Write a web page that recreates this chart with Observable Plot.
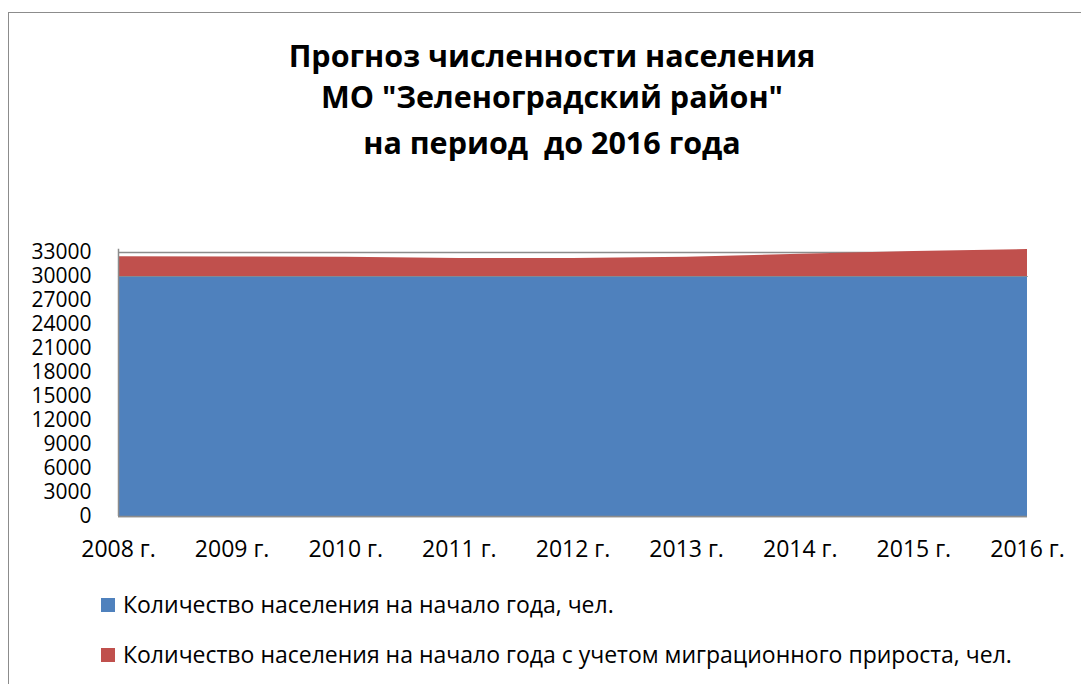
<!DOCTYPE html>
<html>
<head>
<meta charset="utf-8">
<script src="https://cdn.jsdelivr.net/npm/d3@7"></script>
<script src="https://cdn.jsdelivr.net/npm/@observablehq/plot@0.6"></script>
<style>
  html, body { margin: 0; padding: 0; background: #fff; width: 1081px; height: 684px; overflow: hidden; font-family: "Open Sans", sans-serif; }
  #frame { position: absolute; left: 8px; top: 12px; width: 1200px; height: 800px; border-top: 1.5px solid #8c8c8c; border-left: 1.5px solid #8c8c8c; }
  .tline { position: absolute; left: 0; width: 1104px; text-align: center; font-weight: 700; font-size: 30.5px; color: #000; white-space: pre; line-height: 1; }
  #chart { position: absolute; left: 0; top: 220px; }
  .leg { position: absolute; left: 101px; font-size: 23px; color: #000; white-space: pre; line-height: 1; display: flex; align-items: center; }
  .sw { width: 14px; height: 14px; margin-right: 8px; display: inline-block; }
</style>
</head>
<body>
<div id="frame"></div>
<div class="tline" style="top:40px">Прогноз численности населения</div>
<div class="tline" style="top:81px">МО "Зеленоградский район"</div>
<div class="tline" style="top:127px">на период  до 2016 года</div>
<div id="chart"></div>
<div class="leg" style="top:593px"><span class="sw" style="background:#4F81BD"></span>Количество населения на начало года, чел.</div>
<div class="leg" style="top:643px"><span class="sw" style="background:#C0504D"></span>Количество населения на начало года с учетом миграционного прироста, чел.</div>
<script>
const years = [2008, 2009, 2010, 2011, 2012, 2013, 2014, 2015, 2016];
const population = [30000, 30000, 30000, 30000, 30000, 30000, 30000, 30000, 30000];
const populationMigration = [32460, 32440, 32410, 32250, 32250, 32410, 32790, 33125, 33375];
const yTicks = [0, 3000, 6000, 9000, 12000, 15000, 18000, 21000, 24000, 27000, 30000, 33000];

const rows = years.map((y, i) => ({year: y, base: population[i], mig: populationMigration[i]}));

const chart = Plot.plot({
  width: 1081,
  height: 356,
  marginLeft: 118,
  marginRight: 54,
  marginTop: 32,
  marginBottom: 60,
  style: {fontFamily: "Open Sans, sans-serif", fontSize: "21px", color: "#000", background: "transparent", overflow: "visible"},
  x: {domain: [2008, 2016], ticks: years, tickFormat: d => `${d} г.`, tickSize: 0, tickPadding: 24, label: null},
  y: {domain: [0, 33000], ticks: yTicks, tickFormat: d => String(d), tickSize: 0, tickPadding: 27, label: null},
  marks: [
    Plot.ruleY(yTicks, {stroke: "#8c8c8c", strokeWidth: 1.5, strokeOpacity: 1}),
    Plot.areaY(rows, {x: "year", y: "mig", fill: "#C0504D", curve: "linear"}),
    Plot.areaY(rows, {x: "year", y: "base", fill: "#4F81BD", curve: "linear"}),
    Plot.lineY(rows, {x: "year", y: "base", stroke: "#8c8c8c", strokeWidth: 1.2, strokeOpacity: 0.8}),
    Plot.ruleY([0], {stroke: "#8c8c8c", strokeWidth: 1.5}),
    Plot.ruleX([2008], {y1: 0, y2: 33400, stroke: "#8c8c8c", strokeWidth: 1.5})
  ]
});
chart.querySelectorAll("g[aria-label='x-axis tick label'] text, g[aria-label='x-axis tick label']").forEach(el => el.style.fontSize = "23px");
document.getElementById("chart").appendChild(chart);
</script>
</body>
</html>
